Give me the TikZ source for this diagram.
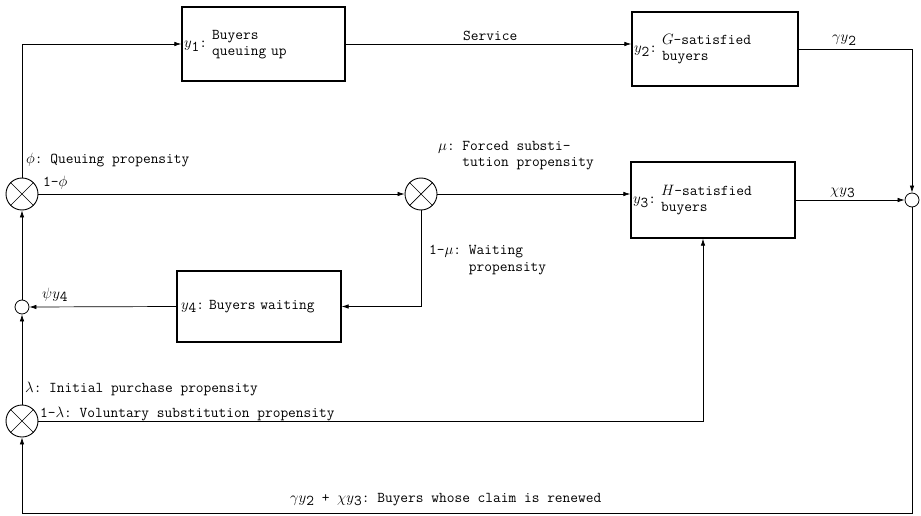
\RequirePackage{fix-cm}
\documentclass[tikz,border=0pt]{standalone}
\usetikzlibrary{arrows.meta}
% state variable y with a lowered full-size index
\newcommand{\yv}[1]{$y$\raisebox{-0.55ex}{#1}}
\begin{document}
\begin{tikzpicture}[x=1pt,y=-1pt,
  font=\fontsize{15}{16.5}\selectfont\ttfamily\frenchspacing,
  box/.style={draw, line width=1.3pt, rectangle, align=left, inner xsep=2pt, inner ysep=0pt},
  mult/.style={draw, circle, minimum size=32pt, inner sep=0pt, line width=0.9pt},
  junc/.style={draw, circle, minimum size=14pt, inner sep=0pt, line width=0.8pt},
  lab/.style={anchor=base west, inner sep=0pt},
  arr/.style={-{Latex[length=7pt,width=4.5pt]}, line width=0.7pt},
  wire/.style={line width=0.7pt}]
\path[use as bounding box] (0,0) rectangle (921,516);

% stocks of buyers
\node[box, text width=159pt, minimum height=74pt] (b1) at (263.5,44)
  {\yv{1}: \begin{tabular}[c]{@{}l@{}}Buyers\\queuing up\end{tabular}};
\node[box, text width=162pt, minimum height=74pt] (b2) at (715,49)
  {\yv{2}: \begin{tabular}[c]{@{}l@{}}$G$-satisfied\\buyers\end{tabular}};
\node[box, text width=160pt, minimum height=76pt] (b3) at (713,200)
  {\yv{3}: \begin{tabular}[c]{@{}l@{}}$H$-satisfied\\buyers\end{tabular}};
\node[box, text width=156pt, inner xsep=4pt, minimum height=71pt] (b4) at (259,306.5)
  {\yv{4}: Buyers waiting};

% splitting points (multipliers) and summing junctions
\node[mult] (m1) at (22,194) {};
\node[mult] (m2) at (421,194) {};
\node[mult] (m3) at (22,421) {};
\node[junc] (s1) at (22,307) {};
\node[junc] (c2) at (912,200) {};
\foreach \m in {m1,m2,m3}
  \draw[wire] (\m.north west) -- (\m.south east) (\m.north east) -- (\m.south west);

% flows
\draw[arr] (m1.north) |- (b1.west);
\draw[arr] (b1.east) -- (b1.east -| b2.west);
\draw[arr] (b2.east) -| (c2.north);
\draw[arr] (b3.east) -- (c2.west);
\draw[arr] (m1.east) -- (m2.west);
\draw[arr] (m2.east) -- (m2.east -| b3.west);
\draw[arr] (m2.south) |- (b4.east);
\draw[arr] (b4.west) -- (s1.east);
\draw[arr] (s1.north) -- (m1.south);
\draw[arr] (m3.north) -- (s1.south);
\coordinate (tap) at (703,0);
\draw[arr] (m3.east) -| (tap |- b3.south);
\coordinate (rb) at (912,513);
\draw[arr] (c2.south) -- (rb) -| (m3.south);

% flow labels
\node[lab] (lserv) at (463,41) {Service};
\node[lab] (lg) at (832,42) {$\gamma$\yv{2}};
\node[lab] (lx) at (830,194) {$\chi$\yv{3}};
\node[lab] (lphi) at (26,164) {$\phi$: Queuing propensity};
\node[lab] (lphi1) at (43,186) {1-$\phi$};
\node[lab] (lmu) at (438,167)
  {\begin{tabular}[b]{@{}l@{ }l@{}}$\mu$: & Forced substi-\\ & tution propensity\end{tabular}};
\node[lab, anchor=north west] (lmu1) at (429,243)
  {\begin{tabular}[t]{@{}l@{ }l@{}}1-$\mu$: & Waiting\\ & propensity\end{tabular}};
\node[lab] (lpsi) at (42,298) {$\psi$\yv{4}};
\node[lab] (llam) at (25,392) {$\lambda$: Initial purchase propensity};
\node[lab] (llam1) at (40,417) {1-$\lambda$: Voluntary substitution propensity};
\node[lab] (lren) at (290,502) {$\gamma$\yv{2} + $\chi$\yv{3}: Buyers whose claim is renewed};
\end{tikzpicture}
\end{document}
